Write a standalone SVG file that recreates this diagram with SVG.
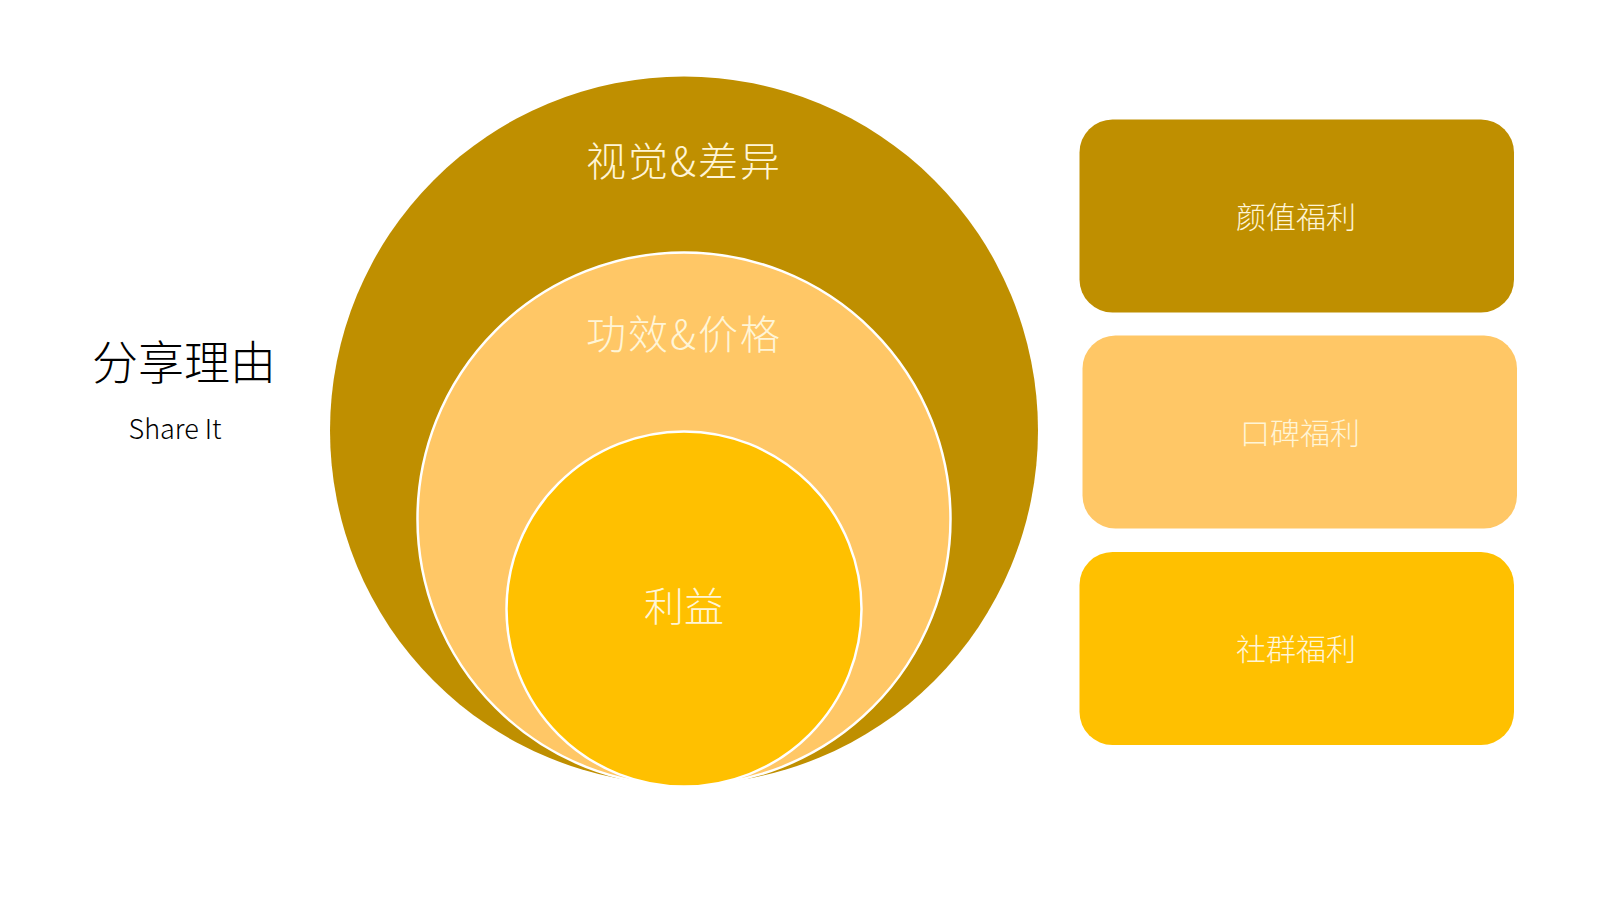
<svg xmlns="http://www.w3.org/2000/svg" width="1600" height="900" viewBox="0 0 1600 900">
<style>
.t{font-family:"Noto Sans CJK SC","Noto Sans",sans-serif;font-weight:300;text-anchor:middle;dominant-baseline:central}
.w{fill:#FFF5D6}
.c{stroke:#FFFFFF;stroke-width:2.5}
</style>
<rect width="1600" height="900" fill="#FFFFFF"/>
<g id="title">
<text class="t" x="184" y="359" font-size="46" font-weight="400" fill="#000000">分享理由</text>
<text class="t" x="175" y="427" font-size="27" fill="#000000">Share It</text>
</g>
<g id="outer">
<circle cx="684" cy="430.5" r="354" fill="#BF8F00"/>
<text class="t w" x="684" y="159" font-size="40" letter-spacing="2">视觉&amp;差异</text>
</g>
<g id="middle">
<circle class="c" cx="684" cy="519" r="266.5" fill="#FFC766"/>
<text class="t w" x="684" y="332" font-size="40" letter-spacing="2">功效&amp;价格</text>
</g>
<g id="inner">
<circle class="c" cx="684" cy="609" r="177.5" fill="#FFC000"/>
<text class="t w" x="684" y="604" font-size="40">利益</text>
</g>
<g id="box1">
<rect x="1079.5" y="119.5" width="434.5" height="193" rx="33" fill="#BF8F00"/>
<text class="t w" x="1296" y="215" font-size="30">颜值福利</text>
</g>
<g id="box2">
<rect x="1082.5" y="335.5" width="434.5" height="193" rx="33" fill="#FFC766"/>
<text class="t w" x="1300" y="431" font-size="30">口碑福利</text>
</g>
<g id="box3">
<rect x="1079.5" y="552" width="434.5" height="193" rx="33" fill="#FFC000"/>
<text class="t w" x="1296" y="647" font-size="30">社群福利</text>
</g>
<g id="connectors"/>
</svg>
